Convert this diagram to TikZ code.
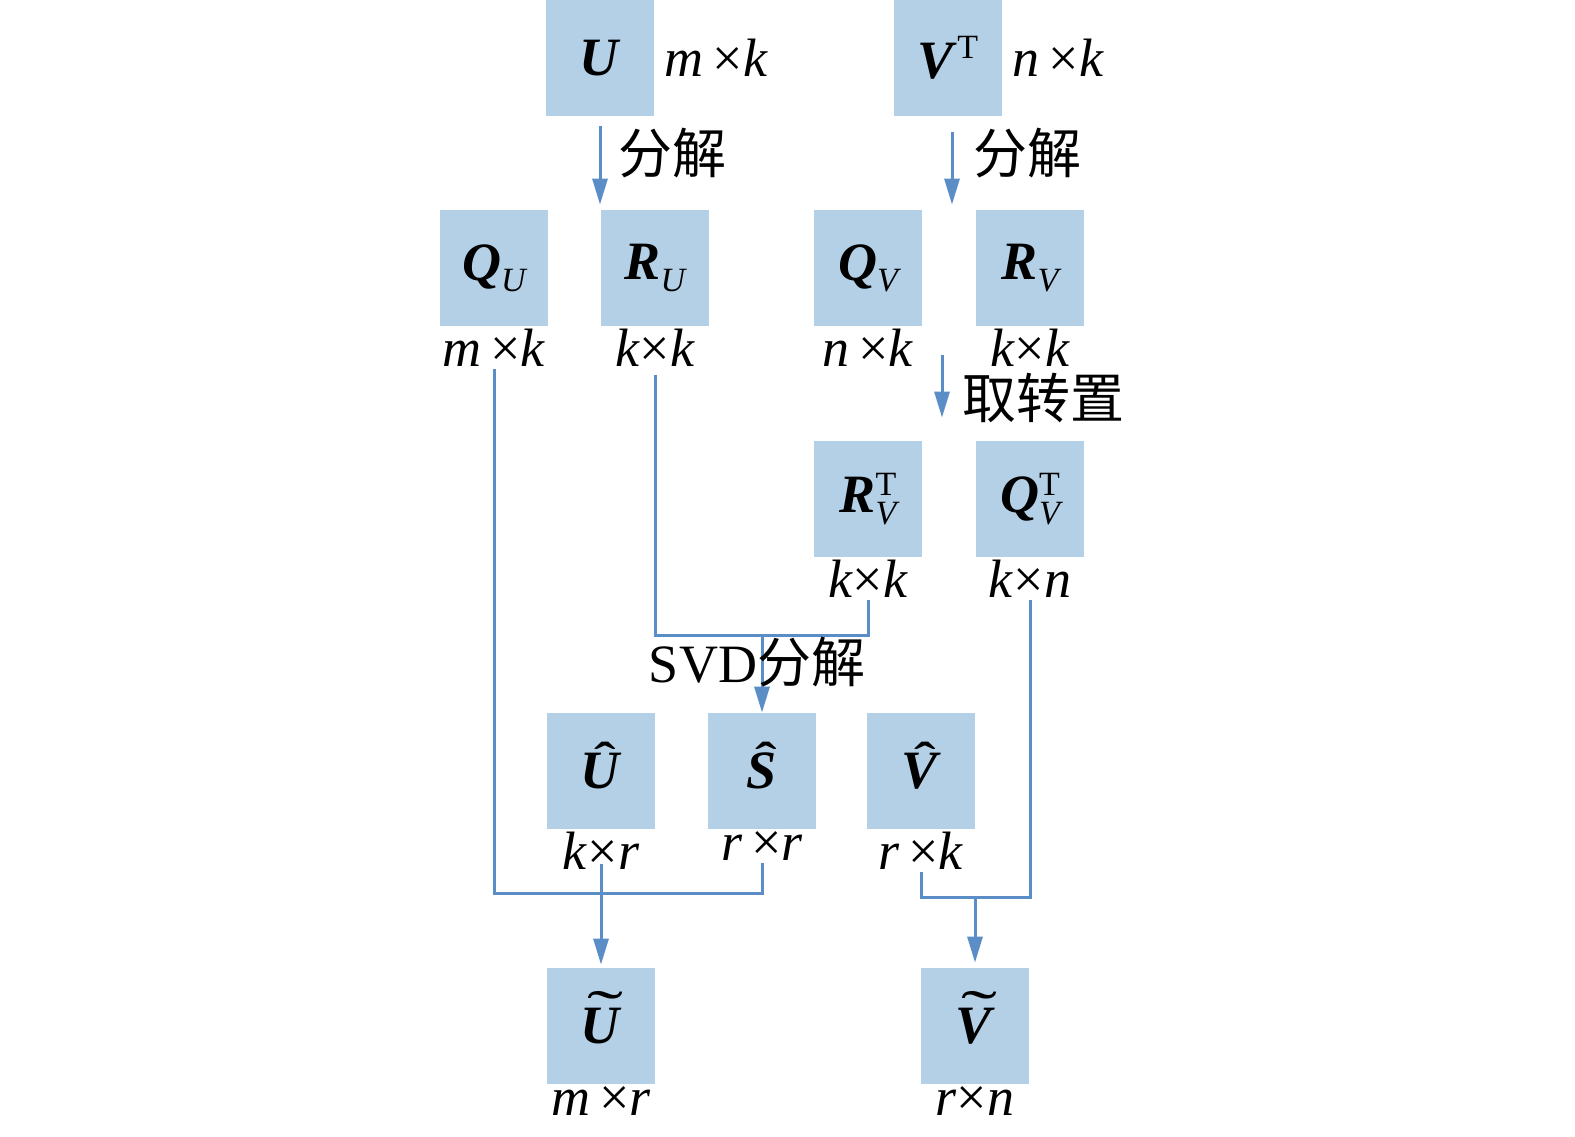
\documentclass[tikz,border=0pt]{standalone}
\usepackage{fontspec}
\usepackage{graphicx}
\setmainfont{Liberation Serif}
\newfontfamily\cjk{Noto Sans CJK SC}
\usetikzlibrary{arrows.meta,positioning,calc}
\definecolor{boxblue}{RGB}{179,208,230}
\definecolor{lineblue}{RGB}{91,142,199}
\newcommand{\mat}[1]{\textbf{\textit{#1}}}
\newcommand{\idx}[1]{\raisebox{-0.45ex}{\fontsize{17}{17}\selectfont\itshape #1}}
\newcommand{\trp}{{\fontsize{17}{17}\selectfont T}}
\newcommand{\both}[1]{\raisebox{-0.45ex}{\fontsize{17}{17}\selectfont
\lineskip=1pt\shortstack[l]{T\\\itshape #1}}}
\newcommand{\hatmat}[1]{\raisebox{-3pt}{\ooalign{\mat{#1}\cr\hidewidth\kern4pt
\raisebox{0.27em}{\scalebox{1.2}[0.85]{\bfseries\char"02C6}}\hidewidth\cr}}}
\newcommand{\tilmat}[1]{\raisebox{-3pt}{\ooalign{\mat{#1}\cr\hidewidth\kern4pt
\raisebox{0.22em}{\scalebox{2.0}[1.1]{\char"02DC}}\hidewidth\cr}}}
\newcommand{\dims}[2]{\textit{#1}×\textit{#2}}

\begin{document}
\begin{tikzpicture}[x=0.5pt,y=-0.5pt,
mbox/.style={fill=boxblue,minimum width=54pt,minimum height=58pt,inner sep=0pt,
font=\fontsize{27}{30}\selectfont},
dim/.style={inner sep=1pt,font=\fontsize{27}{30}\selectfont},
note/.style={inner sep=0pt,font=\fontsize{27}{30}\selectfont\cjk},
conn/.style={lineblue,line width=1.5pt},
arr/.style={conn,-{Triangle[length=13pt,width=7.5pt]}}
]
\useasboundingbox (0,0) rectangle (1575,1136);
% top row
\node[mbox] (U) at (600,58) {\mat{U}};
\node[dim,right=4pt of U] (Ud) {\dims{m\,}{k}};
\node[mbox] (VT) at (948,58) {\mat{V}\raisebox{0.8ex}{\trp}};
\node[dim,right=4pt of VT] (VTd) {\dims{n\,}{k}};
% QR factors
\node[mbox] (QU) at (494,268) {\mat{Q}\idx{U}};
\node[dim,below=0pt of QU] (QUd) {\dims{m\,}{k}};
\node[mbox] (RU) at (655,268) {\mat{R}\idx{U}};
\node[dim,below=0pt of RU] (RUd) {\dims{k}{k}};
\node[mbox] (QV) at (868,268) {\mat{Q}\idx{V}};
\node[dim,below=0pt of QV] (QVd) {\dims{n\,}{k}};
\node[mbox] (RV) at (1030,268) {\mat{R}\idx{V}};
\node[dim,below=0pt of RV] (RVd) {\dims{k}{k}};
% transposed
\node[mbox] (RVT) at (868,499) {\mat{R}\both{V}};
\node[dim,below=0pt of RVT] (RVTd) {\dims{k}{k}};
\node[mbox] (QVT) at (1030,499) {\mat{Q}\both{V}};
\node[dim,below=0pt of QVT] (QVTd) {\dims{k}{n}};
% SVD factors
\node[mbox] (Uh) at (601,771) {\hatmat{U}};
\node[dim,below=0pt of Uh] (Uhd) {\dims{k}{r}};
\node[mbox] (Sh) at (762,771) {\hatmat{S}};
\node[dim,below=0pt of Sh] (Shd) {\dims{r\,}{r}};
\node[mbox] (Vh) at (921,771) {\hatmat{V}};
\node[dim,below=0pt of Vh] (Vhd) {\dims{r\,}{k}};
% results
\node[mbox] (Ut) at (601,1026) {\tilmat{U}};
\node[dim,below=0pt of Ut] (Utd) {\dims{m\,}{r}};
\node[mbox] (Vt) at (975,1026) {\tilmat{V}};
\node[dim,below=0pt of Vt] (Vtd) {\dims{r}{n}};

% decomposition arrows
\coordinate (a1) at ($(U.south)+(0,10)$);
\coordinate (a2) at ($(VT.south)+(4,16)$);
\coordinate (a3) at (942,355);
\draw[arr] (a1) -- ($(a1|-RU.north)+(0,-5)$);
\draw[arr] (a2) -- ($(a2|-RV.north)+(0,-5)$);
\draw[arr] (a3) -- ($(a3|-RVT.north)+(0,-23)$);
\node[note,anchor=west] (f1) at (618,153) {分解};
\node[note,anchor=west] (f2) at (973,153) {分解};
\node[note,anchor=west] (f3) at (962,398) {取转置};

% SVD of R_U R_V^T
\coordinate (j1) at (762,635);
\draw[conn] ($(RUd.south)+(0,6)$) -- (RUd.south|-j1) -| (RVTd.south);
\draw[arr] (j1) -- (Sh.north);
\node[note] (svd) at (757,662) {{\rmfamily SVD}分解};

% products
\coordinate (j2) at (601,893);
\coordinate (j3) at (975,897);
\draw[conn] (QUd.south) -- (QUd.south|-j2) -| (Shd.south);
\draw[arr] ($(Uhd.south)+(0,-8)$) -- ($(Ut.north)+(0,-3)$);
\draw[conn] (Vhd.south) |- (j3) -| (QVTd.south);
\draw[arr] (j3) -- ($(Vt.north)+(0,-5)$);
\end{tikzpicture}
\end{document}
